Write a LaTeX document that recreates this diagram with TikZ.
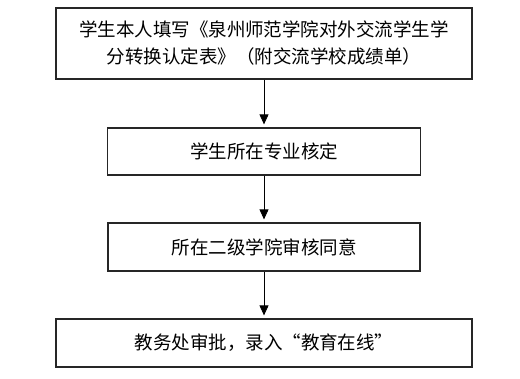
\documentclass[tikz,border=0pt]{standalone}
\usepackage{fontspec}
\newfontfamily\cjk{Noto Sans CJK SC}
\usetikzlibrary{arrows.meta}

\begin{document}
\begin{tikzpicture}[x=1pt,y=1pt,>={Triangle[width=9pt,length=10pt]},
  stepbox/.style={draw=black!85,line width=1.2pt,align=center,inner sep=0pt,
    font=\cjk\fontsize{18.5}{27}\selectfont},
  flow/.style={->,line width=0.8pt,shorten >=3pt}]
  \useasboundingbox (0,0) rectangle (520,379);

  % 流程框
  \node[stepbox,minimum width=416pt,minimum height=71pt] (apply) at (264,335.5)
    {学生本人填写《泉州师范学院对外交流学生学\\分转换认定表》（附交流学校成绩单）};
  \node[stepbox,minimum width=313pt,minimum height=47pt] (major) at (264,227.5)
    {学生所在专业核定};
  \node[stepbox,minimum width=312pt,minimum height=48pt] (college) at (264,132)
    {所在二级学院审核同意};
  \node[stepbox,minimum width=416pt,minimum height=48pt] (office) at (264,36)
    {教务处审批，录入“教育在线”};

  % 箭头
  \draw[flow] (apply) -- (major);
  \draw[flow] (major) -- (college);
  \draw[flow] (college) -- (office);
\end{tikzpicture}
\end{document}
